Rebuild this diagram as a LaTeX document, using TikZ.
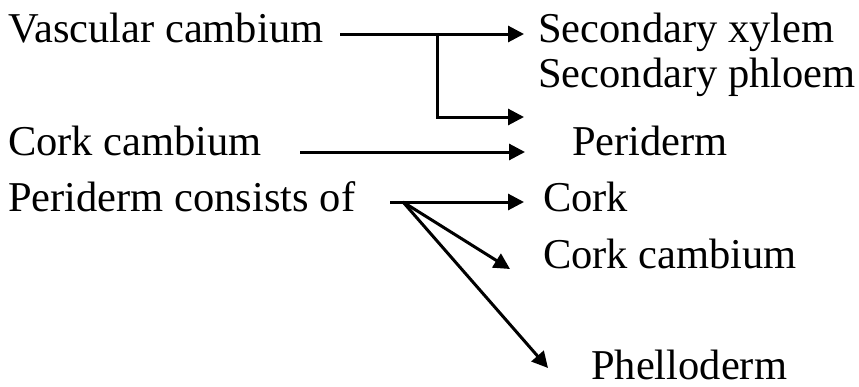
\documentclass[tikz,border=0pt]{standalone}
\usepackage{fontspec}
\setmainfont{Liberation Serif}
\usetikzlibrary{arrows.meta}
\begin{document}
\begin{tikzpicture}[x=1pt,y=-1pt,
  lbl/.style={anchor=base west,inner sep=0pt,font=\fontsize{42.5}{50}\selectfont},
  conn/.style={line width=3pt,-{Triangle[length=16pt,width=16pt]}}]
\useasboundingbox (0,0) rectangle (859,386);
% left texts
\node[lbl] (vc) at (8,42) {Vascular cambium};
\node[lbl] (cc) at (8,155) {Cork cambium};
\node[lbl] (pc) at (8,211) {Periderm consists of};
% right texts
\node[lbl] (sx) at (538,42) {Secondary xylem};
\node[lbl] (sp) at (538,87) {Secondary phloem};
\node[lbl] (pd) at (572,155) {Periderm};
\node[lbl] (ck) at (543,211) {Cork};
\node[lbl] (ckc) at (543,268) {Cork cambium};
\node[lbl] (ph) at (591,379) {Phelloderm};
% connector points
\coordinate (vcs) at (340,34);
\coordinate (vcb) at (437,34);
\coordinate (vct1) at (524,34);
\coordinate (vct2) at (524,117);
\coordinate (ccs) at (300,152);
\coordinate (cct) at (525,152);
\coordinate (pcs) at (390,202);
\coordinate (pcb) at (403,202);
\coordinate (pct1) at (524,202);
\coordinate (pct2) at (510,269);
\coordinate (pct3) at (548,368);
% connectors
\draw[conn] (vcs) -- (vct1);
\draw[conn] (vcb) |- (vct2);
\draw[conn] (ccs) -- (cct);
\draw[conn] (pcs) -- (pct1);
\draw[conn] (pcb) -- (pct2);
\draw[conn] (pcb) -- (pct3);
\end{tikzpicture}
\end{document}
